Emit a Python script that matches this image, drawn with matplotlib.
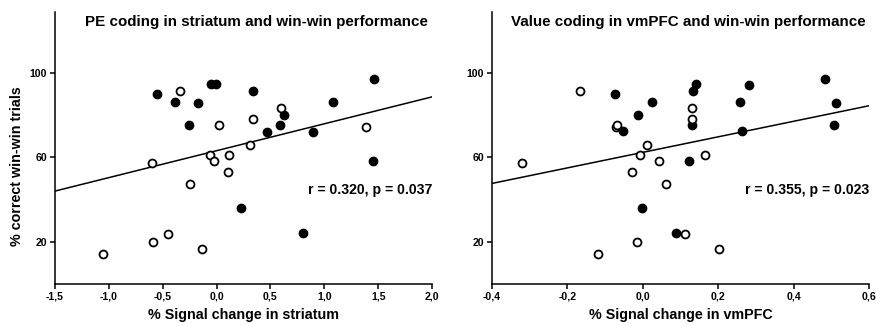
import numpy as np
import matplotlib
matplotlib.use("Agg")
import matplotlib.pyplot as plt
from matplotlib.ticker import FuncFormatter

plt.rcParams["font.family"] = ["Liberation Sans", "DejaVu Sans"]
plt.rcParams["font.weight"] = "bold"

# % correct win-win trials (shared y values)
# striatum panel
striatum_filled_x = [-0.556, -0.386, -0.253, -0.170, -0.052, -0.008, 0.341, 0.629,
                     0.589, 0.468, 0.898, 1.081, 1.462, 1.450, 0.224, 0.800]
striatum_filled_y = [89.9, 86.3, 75.1, 85.8, 94.6, 94.6, 91.5, 80.0,
                     75.1, 72.1, 72.1, 86.3, 97.2, 58.2, 36.1, 24.1]
striatum_open_x = [-0.337, 0.020, 0.341, 0.595, 1.390, 0.308, -0.058, 0.116,
                   -0.027, -0.603, 0.106, -0.247, -0.448, -0.590, -0.135, -1.054]
striatum_open_y = [91.5, 75.1, 77.9, 83.4, 74.3, 65.8, 61.2, 61.3,
                   58.2, 57.1, 52.8, 47.3, 23.6, 20.0, 16.7, 14.2]

# vmPFC panel
vmpfc_filled_x = [-0.073, -0.053, -0.013, 0.026, 0.122, 0.141, 0.134, 0.132,
                  0.259, 0.281, 0.263, 0.484, 0.513, 0.506, -0.002, 0.089]
vmpfc_filled_y = [89.9, 72.2, 80.0, 86.3, 58.2, 94.6, 91.5, 75.1,
                  86.3, 94.4, 72.2, 97.2, 85.8, 75.1, 36.1, 24.1]
vmpfc_open_x = [-0.167, -0.071, -0.069, 0.011, -0.008, 0.043, 0.132, 0.132,
                0.165, -0.319, -0.028, 0.062, 0.112, -0.015, 0.202, -0.118]
vmpfc_open_y = [91.5, 74.3, 75.1, 65.8, 61.2, 58.2, 83.4, 77.9,
                61.3, 57.1, 52.8, 47.3, 23.6, 20.0, 16.7, 14.2]

# regression lines (intercept, slope) and stats
striatum_fit = (63.1, 12.74)
vmpfc_fit = (62.3, 36.8)
striatum_stats = "r = 0.320, p = 0.037"
vmpfc_stats = "r = 0.355, p = 0.023"

striatum_xticks = [-1.5, -1.0, -0.5, 0.0, 0.5, 1.0, 1.5, 2.0]
vmpfc_xticks = [-0.4, -0.2, 0.0, 0.2, 0.4, 0.6]
yticks = [20, 60, 100]


def comma_fmt(ndec):
    return FuncFormatter(lambda v, pos: f"{v:.{ndec}f}".replace(".", ","))


def draw_panel(ax, fx, fy, ox, oy, fit, stats, xticks, title, xlabel):
    ax.plot(fx, fy, "o", ms=6.0, mfc="black", mec="black", mew=1.0, zorder=3)
    ax.plot(ox, oy, "o", ms=5.7, mfc="white", mec="black", mew=1.3, zorder=3)

    xs = np.array([xticks[0], xticks[-1]])
    ax.plot(xs, fit[0] + fit[1] * xs, color="black", lw=1.1, zorder=2)

    ax.set_xlim(xticks[0], xticks[-1])
    ax.set_ylim(0, 129)
    ax.set_xticks(xticks)
    ax.set_yticks(yticks)
    ax.xaxis.set_major_formatter(comma_fmt(1))

    for s in ["top", "right"]:
        ax.spines[s].set_visible(False)
    for s in ["left", "bottom"]:
        ax.spines[s].set_linewidth(1.1)
    ax.tick_params(direction="out", length=3.5, width=1.1, labelsize=7.6, pad=2)
    for lab in ax.get_xticklabels() + ax.get_yticklabels():
        lab.set_fontweight("bold")

    ax.set_xlabel(xlabel, fontsize=10.3, fontweight="bold", labelpad=4.5)
    ax.text(0.99, 124, title, transform=ax.get_yaxis_transform(),
            ha="right", va="center", fontsize=10.9, fontweight="bold")
    ax.text(1.0, 44.5, stats, transform=ax.get_yaxis_transform(),
            ha="right", va="center", fontsize=10.1, fontweight="bold")


fig = plt.figure(figsize=(8.76, 3.26), dpi=100)
ax1 = fig.add_axes([55 / 876, 42 / 326, 377 / 876, 272.5 / 326])
ax2 = fig.add_axes([491.7 / 876, 42 / 326, 377.3 / 876, 272.5 / 326])

draw_panel(ax1, striatum_filled_x, striatum_filled_y, striatum_open_x, striatum_open_y,
           striatum_fit, striatum_stats, striatum_xticks,
           "PE coding in striatum and win-win performance", "% Signal change in striatum")
draw_panel(ax2, vmpfc_filled_x, vmpfc_filled_y, vmpfc_open_x, vmpfc_open_y,
           vmpfc_fit, vmpfc_stats, vmpfc_xticks,
           "Value coding in vmPFC and win-win performance", "% Signal change in vmPFC")

ax1.set_ylabel("% correct win-win trials", fontsize=10.3, fontweight="bold")
ax1.yaxis.set_label_coords(-31 / 377, 0.433)

fig.savefig("out.png", dpi=100)
